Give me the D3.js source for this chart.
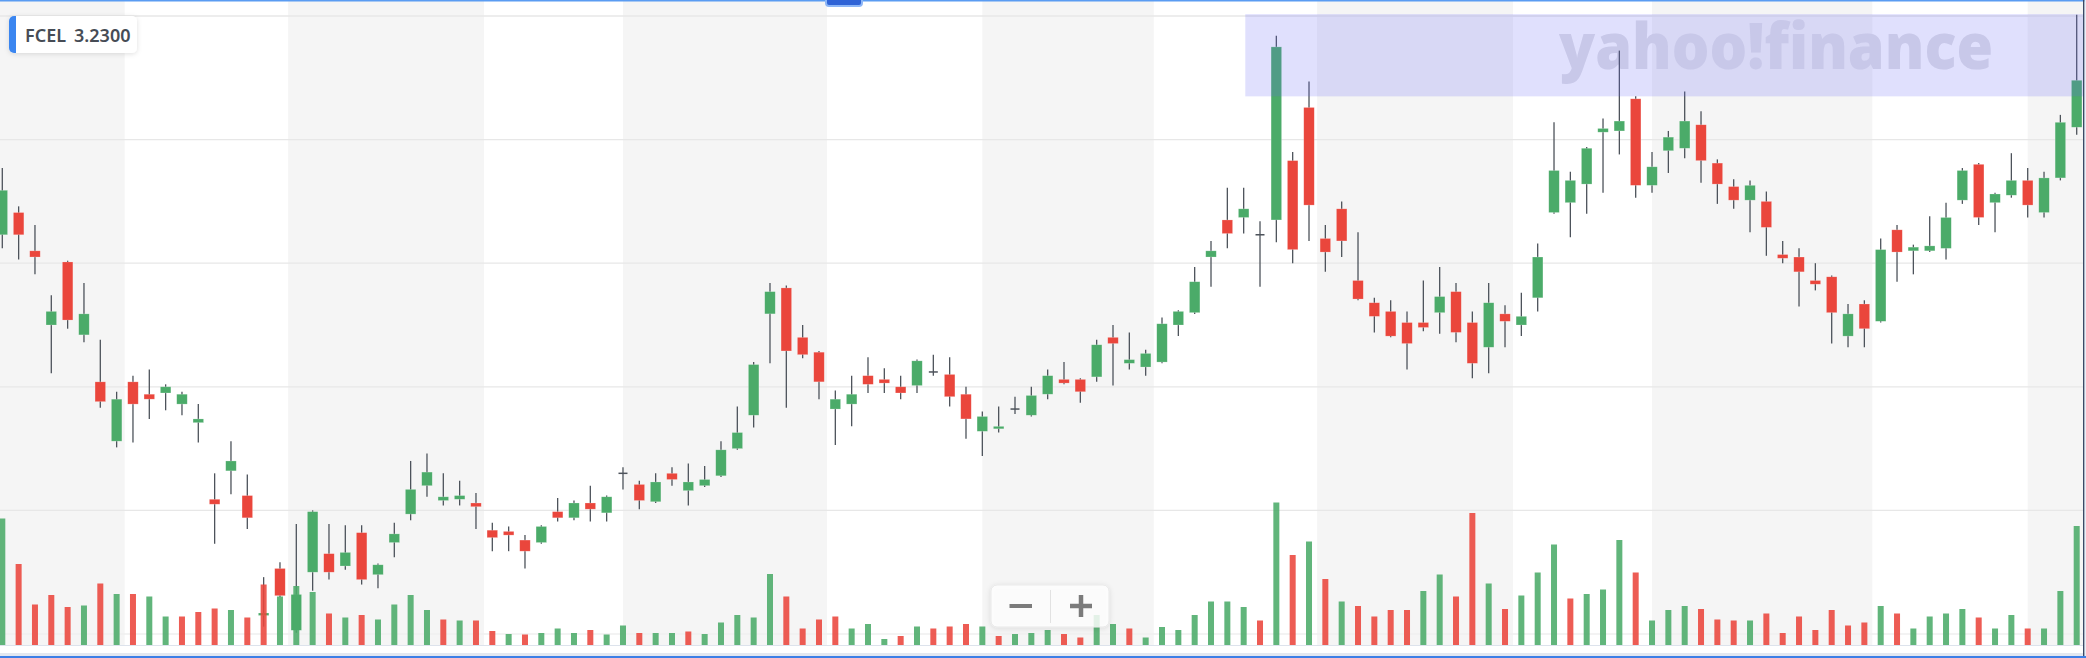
<!DOCTYPE html>
<html>
<head>
<meta charset="utf-8">
<script src="https://cdn.jsdelivr.net/npm/d3@7"></script>
<style>
  html, body { margin: 0; padding: 0; background: #ffffff; overflow: hidden; }
  svg { display: block; }
</style>
</head>
<body>
<svg id="chart" width="2086" height="658"></svg>
<script>
// ---------------- DATA ----------------
const ticker = "FCEL";
const lastPriceLabel = "3.2300";

const opens = [3.123,3.141,3.110,3.050,3.101,3.042,3.004,2.956,3.004,2.994,2.995,2.986,2.971,2.909,2.932,2.912,2.815,2.853,2.803,2.850,
2.865,2.855,2.882,2.848,2.874,2.897,2.920,2.908,2.909,2.906,2.884,2.883,2.876,2.874,2.899,2.894,2.906,2.898,2.930,2.921,
2.907,2.930,2.916,2.920,2.928,2.950,2.977,3.059,3.080,3.040,3.028,2.982,2.986,3.009,3.006,3.000,3.001,3.012,3.010,2.994,
2.964,2.966,2.982,2.977,2.994,3.006,3.006,3.008,3.040,3.019,3.016,3.020,3.050,3.060,3.105,3.135,3.137,3.123,3.135,3.183,
3.226,3.120,3.144,3.086,3.068,3.061,3.052,3.052,3.060,3.077,3.052,3.032,3.059,3.050,3.072,3.141,3.149,3.164,3.206,3.207,
3.233,3.163,3.191,3.193,3.212,3.181,3.162,3.151,3.150,3.107,3.105,3.086,3.089,3.041,3.067,3.053,3.127,3.110,3.110,3.112,
3.151,3.180,3.149,3.155,3.167,3.141,3.169,3.210];

const highs = [3.177,3.146,3.131,3.074,3.102,3.084,3.038,2.996,3.009,3.014,3.002,2.996,2.986,2.930,2.956,2.929,2.846,2.858,2.889,2.900,
2.889,2.888,2.888,2.857,2.890,2.940,2.946,2.930,2.924,2.914,2.890,2.887,2.880,2.888,2.910,2.908,2.920,2.912,2.935,2.924,
2.930,2.935,2.938,2.936,2.956,2.984,3.020,3.084,3.082,3.050,3.029,2.997,3.009,3.024,3.015,3.009,3.022,3.026,3.024,3.000,
2.980,2.984,2.992,3.000,3.014,3.020,3.007,3.038,3.050,3.044,3.030,3.056,3.062,3.097,3.118,3.161,3.161,3.134,3.284,3.190,
3.247,3.131,3.150,3.125,3.072,3.070,3.061,3.086,3.097,3.084,3.061,3.084,3.066,3.076,3.116,3.214,3.174,3.194,3.217,3.272,
3.235,3.190,3.207,3.239,3.223,3.184,3.168,3.167,3.158,3.118,3.112,3.100,3.090,3.067,3.070,3.120,3.131,3.115,3.138,3.149,
3.177,3.181,3.157,3.189,3.177,3.174,3.220,3.301];

const lows = [3.112,3.103,3.091,3.011,3.047,3.036,2.983,2.951,2.955,2.974,2.981,2.977,2.955,2.873,2.913,2.885,2.806,2.830,2.801,2.835,
2.844,2.852,2.840,2.837,2.862,2.892,2.911,2.904,2.904,2.885,2.867,2.867,2.853,2.873,2.891,2.892,2.891,2.891,2.917,2.901,
2.906,2.920,2.904,2.919,2.927,2.949,2.967,3.019,2.983,3.023,2.990,2.953,2.968,2.995,2.995,2.990,2.995,3.009,2.984,2.958,
2.944,2.963,2.978,2.976,2.990,3.002,2.987,3.004,3.001,3.014,3.009,3.019,3.041,3.059,3.081,3.112,3.124,3.081,3.117,3.100,
3.118,3.093,3.105,3.070,3.044,3.040,3.014,3.045,3.043,3.036,3.007,3.011,3.032,3.041,3.061,3.140,3.121,3.140,3.157,3.188,
3.153,3.157,3.173,3.185,3.165,3.148,3.144,3.125,3.106,3.100,3.065,3.078,3.035,3.032,3.032,3.052,3.085,3.091,3.109,3.103,
3.148,3.131,3.125,3.153,3.137,3.137,3.167,3.204];

const closes = [3.159,3.123,3.105,3.061,3.054,3.059,2.988,2.990,2.986,2.990,3.000,2.994,2.974,2.905,2.940,2.894,2.817,2.831,2.832,2.899,
2.850,2.866,2.844,2.856,2.881,2.917,2.931,2.911,2.912,2.903,2.878,2.880,2.867,2.887,2.894,2.906,2.901,2.911,2.930,2.908,
2.923,2.925,2.923,2.925,2.949,2.963,3.018,3.077,3.029,3.026,3.004,2.990,2.994,3.002,3.003,2.995,3.021,3.012,2.992,2.974,
2.976,2.968,2.982,2.993,3.009,3.003,2.996,3.034,3.035,3.022,3.027,3.051,3.061,3.085,3.110,3.124,3.144,3.123,3.275,3.111,
3.147,3.109,3.118,3.071,3.057,3.041,3.035,3.048,3.073,3.044,3.019,3.068,3.053,3.057,3.105,3.175,3.167,3.193,3.209,3.215,
3.163,3.178,3.202,3.215,3.183,3.164,3.151,3.163,3.129,3.104,3.093,3.083,3.060,3.059,3.047,3.111,3.109,3.113,3.114,3.137,
3.175,3.137,3.156,3.167,3.147,3.169,3.214,3.248];

// volume in millions of shares
const volumes = [25.4,16.3,8.2,10.1,7.7,8.0,12.4,10.3,10.3,9.8,5.8,5.8,6.7,7.4,7.1,5.6,12.2,9.8,11.9,10.7,
6.4,5.6,6.1,5.2,8.2,10.1,7.1,5.2,5.0,5.0,2.9,2.3,2.2,2.5,3.4,2.5,3.1,2.2,4.0,2.5,
2.5,2.5,2.8,2.3,4.6,6.1,5.6,14.3,9.8,3.4,5.2,5.8,3.4,4.3,1.3,1.9,3.8,3.4,3.8,4.3,
3.8,1.9,2.3,2.5,3.1,2.3,1.6,6.1,4.3,3.4,1.6,3.7,3.1,6.1,8.8,8.8,7.7,5.0,28.6,18.1,
20.8,13.3,8.8,7.9,5.8,7.1,7.1,10.9,14.2,9.8,26.5,12.4,7.3,10.0,14.6,20.2,9.4,10.3,11.2,21.1,
14.6,5.0,7.1,7.9,7.3,5.2,5.0,5.0,6.4,2.5,5.8,3.1,7.1,4.0,4.6,7.9,6.4,3.4,5.8,6.4,
7.3,5.6,3.4,6.1,3.4,3.4,10.9,23.9];

// alternating time-period shading: boundaries given as bar-index positions
const periodEdges = [7.5, 17.5, 29.5, 38, 50.5, 60, 70.5, 80.5, 92.5, 101, 114.5, 124];
// horizontal price gridlines
const priceGrid = [3.3, 3.2, 3.1, 3.0, 2.9, 2.8];
// highlighted price zone (top-right shaded rectangle)
const zoneStartIndex = 76.1;
const zonePrice = [3.235, 3.3015];

// ---------------- CHART ----------------
const W = 2086, H = 658;
const plotRight = 2083;
const svg = d3.select("#chart");
const n = closes.length;
const data = d3.range(n).map(i => ({
  i, o: opens[i], h: highs[i], l: lows[i], c: closes[i], v: volumes[i],
  prev: i > 0 ? closes[i - 1] : opens[i]
}));

const x = d3.scaleLinear().domain([0, n - 1]).range([2.3, 2076.7]);
const y = d3.scaleLinear().domain([2.8, 3.3]).range([634, 16]);
const vBase = 645.5;
const yv = d3.scaleLinear().domain([0, 30]).range([vBase, vBase - 150]);

const UP = "#4bab69", DOWN = "#ea463c", WICK = "#4d535b";
const bodyW = 10.5, volW = 6;

// background bands
const edgesPx = [0, ...periodEdges.map(e => x(e)), plotRight];
const bands = d3.range(edgesPx.length - 1).map(k => ({ x0: edgesPx[k], x1: edgesPx[k + 1], shade: k % 2 === 0 }));
svg.append("g").selectAll("rect").data(bands).join("rect")
  .attr("x", d => d.x0).attr("y", 1)
  .attr("width", d => d.x1 - d.x0).attr("height", vBase - 1)
  .attr("fill", d => d.shade ? "#f5f5f5" : "#ffffff");

// gridlines
svg.append("g").selectAll("line").data(priceGrid).join("line")
  .attr("x1", 0).attr("x2", plotRight)
  .attr("y1", d => y(d)).attr("y2", d => y(d))
  .attr("stroke", d => d === 2.8 ? "#efefef" : "#e7e7e7").attr("stroke-width", 1.3);

// watermark (beneath marks)
svg.append("text")
  .attr("x", 1559).attr("y", 69)
  .attr("font-family", "'Open Sans', 'Noto Sans', sans-serif")
  .attr("font-weight", 800).attr("font-size", 64)
  .attr("textLength", 434).attr("lengthAdjust", "spacingAndGlyphs")
  .attr("fill", "#e1e1e6")
  .text("yahoo!finance");

// candles
const cg = svg.append("g");
cg.selectAll("line.wick").data(data).join("line")
  .attr("class", "wick")
  .attr("x1", d => x(d.i)).attr("x2", d => x(d.i))
  .attr("y1", d => y(d.h)).attr("y2", d => y(d.l))
  .attr("stroke", WICK).attr("stroke-width", 1.3);

cg.selectAll("rect.body").data(data.filter(d => d.o !== d.c)).join("rect")
  .attr("class", "body")
  .attr("x", d => x(d.i) - bodyW / 2)
  .attr("y", d => y(Math.max(d.o, d.c)))
  .attr("width", bodyW)
  .attr("height", d => Math.max(2, Math.abs(y(d.o) - y(d.c))))
  .attr("fill", d => d.c > d.o ? UP : DOWN)
  .attr("stroke", "#ffffff").attr("stroke-opacity", 0.35).attr("stroke-width", 0.6);

cg.selectAll("line.doji").data(data.filter(d => d.o === d.c)).join("line")
  .attr("class", "doji")
  .attr("x1", d => x(d.i) - 4.5).attr("x2", d => x(d.i) + 4.5)
  .attr("y1", d => y(d.c)).attr("y2", d => y(d.c))
  .attr("stroke", WICK).attr("stroke-width", 1.5);

// volume
svg.append("g").selectAll("rect").data(data).join("rect")
  .attr("x", d => x(d.i) - volW / 2)
  .attr("y", d => yv(d.v))
  .attr("width", volW)
  .attr("height", d => vBase - yv(d.v))
  .attr("fill", d => d.c >= d.prev ? UP : DOWN)
  .attr("fill-opacity", 0.88);

// highlighted zone overlay
svg.append("rect")
  .attr("x", x(zoneStartIndex)).attr("y", y(zonePrice[1]))
  .attr("width", plotRight - x(zoneStartIndex))
  .attr("height", y(zonePrice[0]) - y(zonePrice[1]))
  .attr("fill", "rgb(100,100,245)").attr("fill-opacity", 0.2);

// bottom area
svg.append("line").attr("x1", 0).attr("x2", plotRight).attr("y1", vBase).attr("y2", vBase)
  .attr("stroke", "#dde3ec").attr("stroke-width", 1.2);
svg.append("rect").attr("x", 0).attr("y", vBase + 0.6).attr("width", W).attr("height", H - vBase).attr("fill", "#ffffff");
svg.append("rect").attr("x", 0).attr("y", 653).attr("width", W).attr("height", 3).attr("fill", "#e3e8f0");
svg.append("rect").attr("x", 0).attr("y", 656).attr("width", W).attr("height", 2).attr("fill", "#3d7fe6");

// borders
svg.append("rect").attr("x", 0).attr("y", 0).attr("width", W).attr("height", 1.5).attr("fill", "#5a9cf2");
svg.append("rect").attr("x", plotRight).attr("y", 0).attr("width", 1.6).attr("height", 656).attr("fill", "#3a4a66");
svg.append("rect").attr("x", plotRight + 1.6).attr("y", 0).attr("width", W - plotRight - 1.6).attr("height", 656).attr("fill", "#e8eef8");

// top drag handle
svg.append("rect").attr("x", 826).attr("y", -5).attr("width", 36).attr("height", 11).attr("rx", 3)
  .attr("fill", "#2f63d6").attr("stroke", "#8cb6f7").attr("stroke-width", 2);

// ticker label
const defs = svg.append("defs");
const f = defs.append("filter").attr("id", "sh").attr("x", "-20%").attr("y", "-40%").attr("width", "140%").attr("height", "180%");
f.append("feDropShadow").attr("dx", 0).attr("dy", 1).attr("stdDeviation", 2.5).attr("flood-color", "#000").attr("flood-opacity", 0.13);
const lab = svg.append("g");
lab.append("rect").attr("x", 9).attr("y", 16).attr("width", 128).attr("height", 37).attr("rx", 5)
  .attr("fill", "#ffffff").attr("filter", "url(#sh)");
lab.append("path").attr("d", "M9,21 a5,5 0 0 1 5,-5 h2 v37 h-2 a5,5 0 0 1 -5,-5 z").attr("fill", "#3b86f0");
const t = lab.append("text").attr("x", 25).attr("y", 41.5)
  .attr("font-family", "'Noto Sans', 'Open Sans', sans-serif").attr("font-size", 18).attr("font-weight", 600)
  .attr("fill", "#464c55");
t.append("tspan").text(ticker);
t.append("tspan").attr("dx", 8).text(lastPriceLabel);

// zoom control
const zc = svg.append("g");
zc.append("rect").attr("x", 991).attr("y", 585).attr("width", 118).attr("height", 42).attr("rx", 6)
  .attr("fill", "#ffffff").attr("fill-opacity", 0.82).attr("stroke", "#e9e9e9").attr("filter", "url(#sh)");
zc.append("line").attr("x1", 1050.5).attr("x2", 1050.5).attr("y1", 590).attr("y2", 623).attr("stroke", "#e2e2e2").attr("stroke-width", 1);
zc.append("line").attr("x1", 1009.5).attr("x2", 1032).attr("y1", 606).attr("y2", 606).attr("stroke", "#7b7b7b").attr("stroke-width", 4);
zc.append("line").attr("x1", 1070).attr("x2", 1092).attr("y1", 606).attr("y2", 606).attr("stroke", "#7b7b7b").attr("stroke-width", 4.5);
zc.append("line").attr("x1", 1081).attr("x2", 1081).attr("y1", 595).attr("y2", 617).attr("stroke", "#7b7b7b").attr("stroke-width", 4.5);
</script>
</body>
</html>
